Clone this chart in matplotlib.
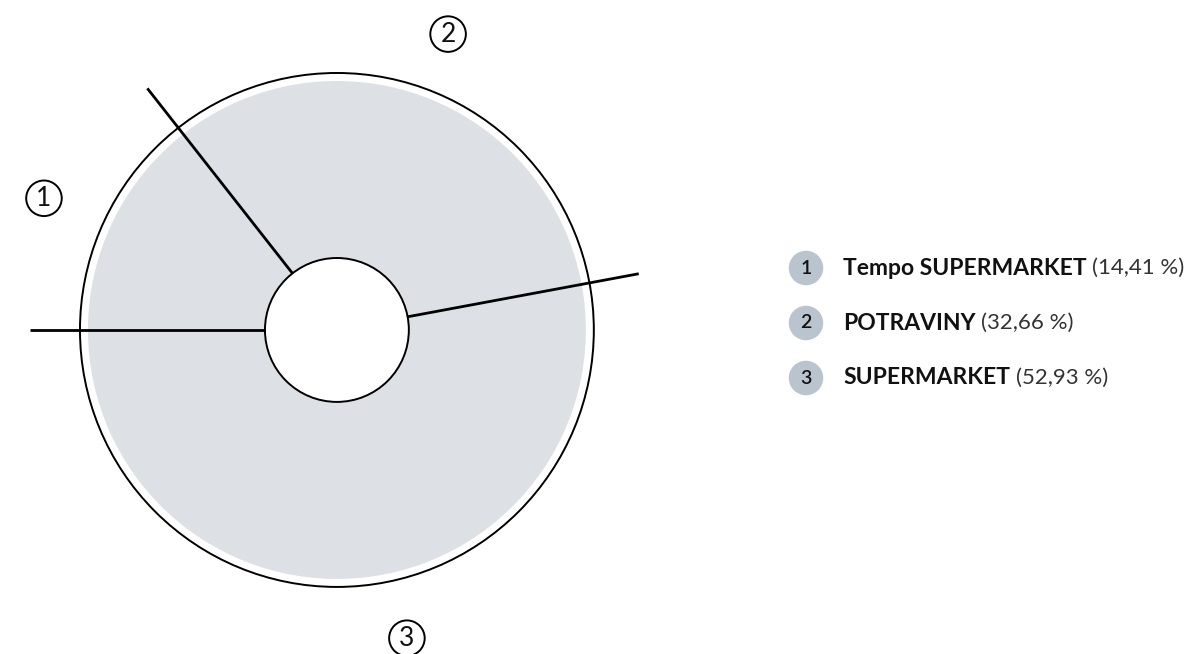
import numpy as np
import matplotlib.pyplot as plt
from matplotlib.patches import Circle

# data
labels = ['Tempo SUPERMARKET', 'POTRAVINY', 'SUPERMARKET']
shares = [14.41, 32.66, 52.93]
share_text = ['(14,41 %)', '(32,66 %)', '(52,93 %)']
numbers = ['1', '2', '3']

plt.rcParams['font.family'] = ['Lato', 'DejaVu Sans']

fig = plt.figure(figsize=(11.92, 6.54), dpi=100)

# donut axes, about 257 px per unit
ax = fig.add_axes([2.9 / 1192, 0, 668 / 1192, 1])
ax.axis('off')

r_fill = 0.969
r_hole = 0.28
ax.pie(shares, radius=r_fill, startangle=180, counterclock=False,
       colors=['#dde1e5'] * 3,
       wedgeprops=dict(width=r_fill - r_hole, linewidth=0))
ax.set_xlim(-1.3, 1.3)
ax.set_ylim(-1.261, 1.284)
ax.set_aspect('auto')

ax.add_patch(Circle((0, 0), 1.0, fill=False, ec='black', lw=1.4))
ax.add_patch(Circle((0, 0), r_hole, fc='white', ec='black', lw=1.4))

# separator lines
bounds = 180 - np.cumsum([0] + shares) * 3.6
for a in bounds[:-1]:
    t = np.deg2rad(a)
    ax.plot([r_hole * np.cos(t), 1.195 * np.cos(t)],
            [r_hole * np.sin(t), 1.195 * np.sin(t)], color='black', lw=2,
            solid_capstyle='butt')

# number labels around the ring (angle in degrees, radius)
label_pos = [(155.8, 1.25), (69.4, 1.23), (-77.2, 1.23)]
for i in range(len(shares)):
    a, r = label_pos[i]
    t = np.deg2rad(a)
    ax.text(r * np.cos(t), r * np.sin(t), numbers[i],
            fontsize=19, ha='center', va='center', color='#111111',
            bbox=dict(boxstyle='circle,pad=0.2', fc='white', ec='black', lw=1.4))

# legend
ys = [268, 323, 378]
for i in range(len(labels)):
    y = 1 - ys[i] / 654
    fig.text(806 / 1192, y, numbers[i], fontsize=14, fontweight='semibold',
             ha='center', va='center', color='#111111',
             bbox=dict(boxstyle='circle,pad=0.45', fc='#b9c4ce', ec='none'))
    t = fig.text(843 / 1192, y, labels[i], fontsize=16.5, fontweight='bold',
                 ha='left', va='center', color='#111111')
    ax.annotate(share_text[i], xy=(1, 0.5), xycoords=t, xytext=(4, 0),
                textcoords='offset points', fontsize=16, fontweight='normal',
                ha='left', va='center', color='#333333')

fig.savefig('out.png', dpi=100)
